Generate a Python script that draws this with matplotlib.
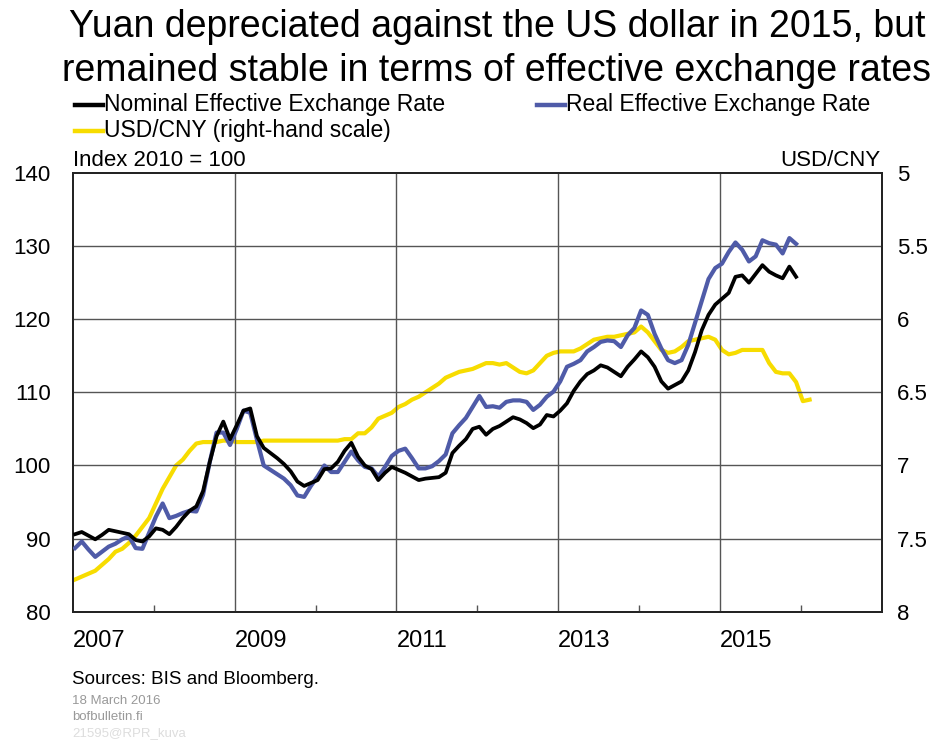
import matplotlib
matplotlib.use("Agg")
import matplotlib.pyplot as plt
from matplotlib.lines import Line2D

REG = ['Liberation Sans', 'DejaVu Sans']
plt.rcParams['font.family'] = REG

# Monthly data, Jan 2007 onwards
neer = [90.6, 90.9, 90.4, 89.9, 90.5, 91.2, 91.0, 90.8, 90.6, 89.8, 89.6, 90.3,
        91.4, 91.2, 90.6, 91.6, 92.8, 93.8, 94.4, 96.5, 100.5, 104.0, 106.0, 103.6,
        105.5, 107.5, 107.8, 104.0, 102.4, 101.7, 101.0, 100.2, 99.2, 97.8, 97.2, 97.6,
        98.0, 99.5, 99.6, 100.5, 102.0, 103.1, 101.2, 100.0, 99.5, 98.0, 99.0, 99.8,
        99.4, 99.0, 98.5, 98.0, 98.2, 98.3, 98.4, 99.0, 101.7, 102.7, 103.6, 105.0,
        105.3, 104.2, 105.0, 105.4, 106.0, 106.6, 106.3, 105.8, 105.1, 105.6, 106.9, 106.7,
        107.5, 108.5, 110.2, 111.5, 112.5, 113.0, 113.7, 113.4, 112.8, 112.2, 113.5, 114.5,
        115.6, 114.8, 113.5, 111.5, 110.5, 111.0, 111.5, 113.0, 115.5, 118.5, 120.6, 122.0,
        122.8, 123.6, 125.8, 126.0, 125.0, 126.2, 127.4, 126.5, 126.0, 125.6, 127.2, 125.8]

reer = [88.7, 89.6, 88.5, 87.5, 88.2, 88.9, 89.3, 89.9, 90.3, 88.7, 88.6, 90.8,
        93.0, 94.8, 92.8, 93.1, 93.5, 93.8, 93.7, 96.0, 100.5, 104.5, 104.5, 102.8,
        105.0, 107.5, 107.2, 103.5, 100.0, 99.4, 98.8, 98.2, 97.3, 95.9, 95.7, 97.2,
        98.5, 100.0, 99.1, 99.1, 100.5, 101.9, 100.7, 99.8, 99.6, 98.5, 99.8, 101.3,
        102.0, 102.3, 101.0, 99.6, 99.6, 99.9, 100.6, 101.5, 104.4, 105.5, 106.5, 108.0,
        109.5, 108.0, 108.1, 107.9, 108.7, 108.9, 108.9, 108.7, 107.6, 108.3, 109.4, 110.1,
        111.5, 113.5, 113.9, 114.4, 115.6, 116.2, 116.9, 117.1, 117.0, 116.2, 117.8, 118.8,
        121.2, 120.6, 118.0, 116.0, 114.4, 114.0, 114.4, 116.5, 119.5, 122.5, 125.5, 127.0,
        127.6, 129.2, 130.5, 129.5, 127.9, 128.6, 130.8, 130.4, 130.2, 129.0, 131.1, 130.3]

usdcny = [7.78, 7.76, 7.74, 7.72, 7.68, 7.64, 7.59, 7.57, 7.53, 7.48, 7.42, 7.36,
          7.26, 7.16, 7.08, 7.00, 6.96, 6.90, 6.85, 6.84, 6.84, 6.84, 6.83, 6.83,
          6.84, 6.84, 6.84, 6.84, 6.83, 6.83, 6.83, 6.83, 6.83, 6.83, 6.83, 6.83,
          6.83, 6.83, 6.83, 6.83, 6.82, 6.82, 6.78, 6.78, 6.74, 6.68, 6.66, 6.64,
          6.60, 6.58, 6.55, 6.53, 6.50, 6.47, 6.44, 6.40, 6.38, 6.36, 6.35, 6.34,
          6.32, 6.30, 6.30, 6.31, 6.30, 6.33, 6.36, 6.37, 6.35, 6.30, 6.25, 6.23,
          6.22, 6.22, 6.22, 6.20, 6.17, 6.14, 6.13, 6.12, 6.12, 6.11, 6.10, 6.09,
          6.05, 6.09, 6.15, 6.21, 6.23, 6.22, 6.19, 6.15, 6.14, 6.13, 6.12, 6.14,
          6.21, 6.24, 6.23, 6.21, 6.21, 6.21, 6.21, 6.30, 6.36, 6.37, 6.37, 6.43,
          6.56, 6.55]

start_year = 2007
x_ticklabels = ['2007', '2009', '2011', '2013', '2015']
left_ticks = [80, 90, 100, 110, 120, 130, 140]
right_ticks = [5, 5.5, 6, 6.5, 7, 7.5, 8]
right_ticklabels = ['5', '5.5', '6', '6.5', '7', '7.5', '8']

def months_to_x(n):
    return [start_year + (i + 0.3) / 12 for i in range(n)]

BLACK = '#000000'
BLUE = '#4F5BA8'
YELLOW = '#F7DC00'
GRID = '#555555'

fig = plt.figure(figsize=(9.43, 7.42), dpi=100)
ax = fig.add_axes([73/943, 130.3/742, (881.7-73)/943, (611.7-173)/742])
ax2 = ax.twinx()

ax.set_xlim(2007, 2017)
ax.set_ylim(80, 140)
ax2.set_ylim(8, 5)

ax2.plot(months_to_x(len(usdcny)), usdcny, color=YELLOW, lw=3.0, solid_joinstyle='round', zorder=2)
ax.plot(months_to_x(len(reer)), reer, color=BLUE, lw=3.0, solid_joinstyle='round', zorder=3)
ax.plot(months_to_x(len(neer)), neer, color=BLACK, lw=2.7, solid_joinstyle='round', zorder=4)
ax.set_zorder(ax2.get_zorder() + 1)
ax.patch.set_visible(False)

# grid
for yv in left_ticks[1:-1]:
    ax.axhline(yv, color=GRID, lw=1.0, zorder=1)
for xv in [2009, 2011, 2013, 2015]:
    ax.axvline(xv, color=GRID, lw=1.0, zorder=1)

ax.set_yticks(left_ticks)
ax.set_yticklabels([str(t) for t in left_ticks], fontsize=16)
ax.tick_params(axis='y', length=0, pad=16)
ax2.set_yticks(right_ticks)
ax2.set_yticklabels(right_ticklabels, fontsize=16)
ax2.tick_params(axis='y', length=0, pad=11)

ax.set_xticks([2007, 2009, 2011, 2013, 2015])
ax.set_xticklabels(x_ticklabels, fontsize=17, ha='left')
ax.set_xticks([2008, 2010, 2012, 2014, 2016], minor=True)
ax.tick_params(axis='x', which='major', length=0, pad=13)
ax.tick_params(axis='x', which='minor', direction='in', length=5, width=1, color=GRID)

for a in (ax, ax2):
    for s in a.spines.values():
        s.set_linewidth(1.3)
        s.set_color('#222222')

# Title
fig.text(0.527, 1 - 27/742, 'Yuan depreciated against the US dollar in 2015, but',
         fontsize=27, ha='center', va='center')
fig.text(0.527, 1 - 71/742, 'remained stable in terms of effective exchange rates',
         fontsize=27, ha='center', va='center')

# Legend
def leg(x0, y, color, label):
    fig.add_artist(Line2D([x0/943, (x0+28)/943], [1 - y/742, 1 - y/742],
                          color=color, lw=3.2, transform=fig.transFigure))
    fig.text((x0+29)/943, 1 - y/742, label, fontsize=16.5,
             ha='left', va='center')

leg(75, 105, BLACK, 'Nominal Effective Exchange Rate')
leg(537, 105, BLUE, 'Real Effective Exchange Rate')
leg(75, 131, YELLOW, 'USD/CNY (right-hand scale)')

fig.text(73/943, 1 - 160/742, 'Index 2010 = 100', fontsize=16,
         ha='left', va='center')
fig.text(881/943, 1 - 160/742, 'USD/CNY', fontsize=16,
         ha='right', va='center')

# Footer
fig.text(72/943, 1 - 680/742, 'Sources: BIS and Bloomberg.', fontsize=13.5,
         ha='left', va='center')
fig.text(72/943, 1 - 701/742, '18 March 2016', fontsize=9.5, color='#999999',
         ha='left', va='center')
fig.text(72/943, 1 - 717/742, 'bofbulletin.fi', fontsize=9.5, color='#999999',
         ha='left', va='center')
fig.text(72/943, 1 - 733/742, '21595@RPR_kuva', fontsize=9.5, color='#DDDDDD',
         ha='left', va='center')

fig.savefig('out.png', dpi=100, facecolor='white')
